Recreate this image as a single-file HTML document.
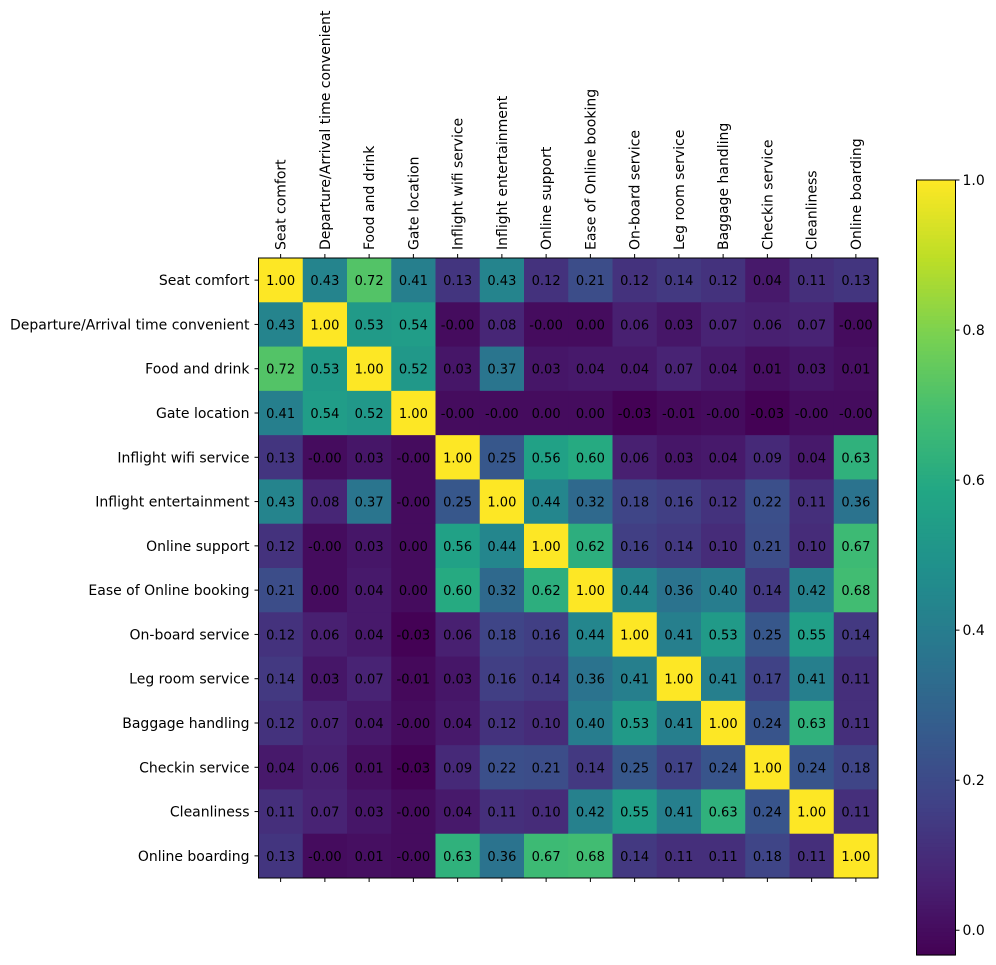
<!DOCTYPE html>
<html><head><meta charset="utf-8"><style>body{margin:0;background:#fff}svg{display:block;font-family:"DejaVu Sans","Liberation Sans",sans-serif}</style></head>
<body>
<svg id="chart" width="996" height="965" viewBox="0 0 996 965" xmlns="http://www.w3.org/2000/svg"></svg>
<script>
const labels = ["Seat comfort","Departure/Arrival time convenient","Food and drink","Gate location","Inflight wifi service","Inflight entertainment","Online support","Ease of Online booking","On-board service","Leg room service","Baggage handling","Checkin service","Cleanliness","Online boarding"];
const values = [
[1.00,0.43,0.72,0.41,0.13,0.43,0.12,0.21,0.12,0.14,0.12,0.04,0.11,0.13],
[0.43,1.00,0.53,0.54,-0.001,0.08,-0.001,0.00,0.06,0.03,0.07,0.06,0.07,-0.001],
[0.72,0.53,1.00,0.52,0.03,0.37,0.03,0.04,0.04,0.07,0.04,0.01,0.03,0.01],
[0.41,0.54,0.52,1.00,-0.001,-0.001,0.00,0.00,-0.03,-0.01,-0.001,-0.03,-0.001,-0.001],
[0.13,-0.001,0.03,-0.001,1.00,0.25,0.56,0.60,0.06,0.03,0.04,0.09,0.04,0.63],
[0.43,0.08,0.37,-0.001,0.25,1.00,0.44,0.32,0.18,0.16,0.12,0.22,0.11,0.36],
[0.12,-0.001,0.03,0.00,0.56,0.44,1.00,0.62,0.16,0.14,0.10,0.21,0.10,0.67],
[0.21,0.00,0.04,0.00,0.60,0.32,0.62,1.00,0.44,0.36,0.40,0.14,0.42,0.68],
[0.12,0.06,0.04,-0.03,0.06,0.18,0.16,0.44,1.00,0.41,0.53,0.25,0.55,0.14],
[0.14,0.03,0.07,-0.01,0.03,0.16,0.14,0.36,0.41,1.00,0.41,0.17,0.41,0.11],
[0.12,0.07,0.04,-0.001,0.04,0.12,0.10,0.40,0.53,0.41,1.00,0.24,0.63,0.11],
[0.04,0.06,0.01,-0.03,0.09,0.22,0.21,0.14,0.25,0.17,0.24,1.00,0.24,0.18],
[0.11,0.07,0.03,-0.001,0.04,0.11,0.10,0.42,0.55,0.41,0.63,0.24,1.00,0.11],
[0.13,-0.001,0.01,-0.001,0.63,0.36,0.67,0.68,0.14,0.11,0.11,0.18,0.11,1.00]];
const cbTicks = [0.0,0.2,0.4,0.6,0.8,1.0];

const NS="http://www.w3.org/2000/svg";
const svg=document.getElementById('chart');
const L=258.5,T=258,W=619.5,H=620,n=labels.length,cw=W/n,ch=H/n;
const vmin=-0.033,vmax=1.0;
const vir=[[68,1,84],[72,35,116],[64,67,135],[52,94,141],[41,120,142],[32,144,140],[34,167,132],[68,190,112],[121,209,81],[189,222,38],[253,231,37]];
function cmap(v){let t=(v-vmin)/(vmax-vmin);t=Math.max(0,Math.min(1,t));const p=t*10,i=Math.min(9,Math.floor(p)),f=p-i;const a=vir[i],b=vir[i+1];return `rgb(${a.map((c,k)=>Math.round(c+(b[k]-c)*f)).join(',')})`;}
function fmt(v){const s=Math.abs(v).toFixed(2);return (v<0?'-':'')+s;}
function el(tag,attrs,parent){const e=document.createElementNS(NS,tag);for(const k in attrs)e.setAttribute(k,attrs[k]);(parent||svg).appendChild(e);return e;}
const xs=j=>L+j*cw, ys=i=>T+i*ch;
for(let i=0;i<n;i++)for(let j=0;j<n;j++){
 const v=values[i][j];
 const r=el('rect',{x:xs(j),y:ys(i),width:cw+0.5,height:ch+0.5,fill:cmap(v)});
 
 
 const t=el('text',{x:xs(j)+cw/2,y:ys(i)+ch/2+5,'text-anchor':'middle','font-size':13,fill:'#000'});
 t.textContent=fmt(v);
 
 
}
const fr=el('rect',{x:L,y:T,width:W,height:H,fill:'none',stroke:'#000','stroke-width':1});


for(let k=0;k<n;k++){
 const cx=xs(k)+cw/2, cy=ys(k)+ch/2;
 el('line',{x1:cx,y1:T,x2:cx,y2:T-4,stroke:'#000'});
 el('line',{x1:cx,y1:T+H,x2:cx,y2:T+H+4,stroke:'#000'});
 el('line',{x1:L,y1:cy,x2:L-4,y2:cy,stroke:'#000'});
 const xl=el('text',{x:0,y:0,transform:`translate(${cx+5},${T-8}) rotate(-90)`,'font-size':14});
 xl.textContent=labels[k];
 
 
 const yl=el('text',{x:L-9,y:cy+5,'text-anchor':'end','font-size':14});
 yl.textContent=labels[k];
 
 
}
const CX=916.5,CT=180,CB=955,CW=39;
const cy=v=>CB-(v-vmin)/(vmax-vmin)*(CB-CT);
for(let s=0;s<200;s++){const v0=vmin+(vmax-vmin)*s/200,v1=vmin+(vmax-vmin)*(s+1)/200;
 el('rect',{x:CX,y:cy(v1),width:CW,height:cy(v0)-cy(v1)+0.6,fill:cmap((v0+v1)/2)});}
const cbf=el('rect',{x:CX,y:CT,width:CW,height:CB-CT,fill:'none',stroke:'#000'});


cbTicks.forEach(v=>{const y=cy(v);
 el('line',{x1:CX+CW,y1:y,x2:CX+CW+4,y2:y,stroke:'#000'});
 const t=el('text',{x:CX+CW+7,y:y+5,'font-size':14});t.textContent=v.toFixed(1);
 
 });
</script>
</body></html>
